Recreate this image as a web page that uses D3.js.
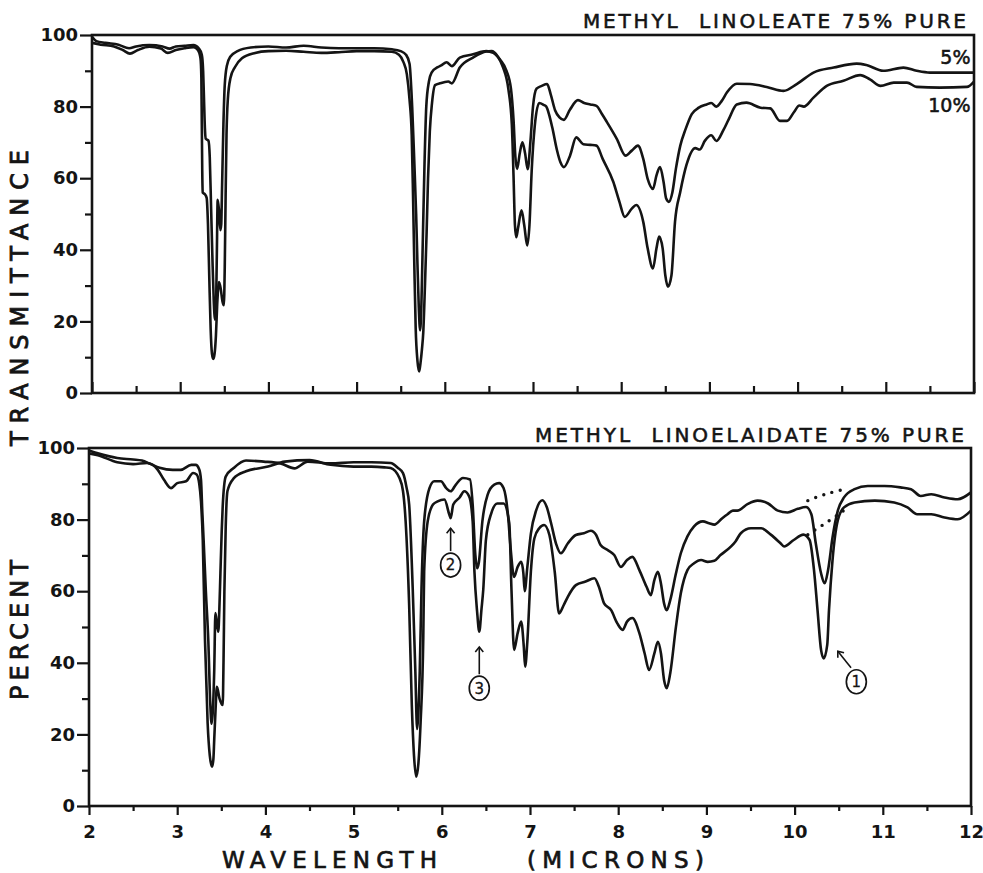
<!DOCTYPE html>
<html>
<head>
<meta charset="utf-8">
<script src="https://cdn.jsdelivr.net/npm/d3@7"></script>
<style>
  body { margin: 0; background: #fff; }
  svg { display: block; }
  text { font-family: "DejaVu Sans", sans-serif; fill: #141414; }
  text.heavy { stroke: #141414; stroke-width: 0.55px; }
</style>
</head>
<body>
<div id="container"></div>
<script>
// wavelength (microns), percent transmittance

// METHYL LINOLEATE, 5% solution (upper trace)
const linoleate5 = [
  [2.0,99.5],[2.05,98.3],[2.15,97.8],[2.3,97.3],[2.42,96.3],[2.5,96.8],[2.65,97.2],[2.8,96.8],[2.88,96.2],
  [2.95,96.8],[3.05,97],[3.15,97.2],[3.21,96.3],[3.245,94.5],[3.26,90],[3.27,82],[3.28,74],[3.29,71],
  [3.32,70.5],[3.335,66],[3.35,52],[3.365,38],[3.38,26],[3.395,20.5],[3.405,23],[3.415,38],[3.425,54],
  [3.44,51],[3.455,45.5],[3.465,47],[3.475,58],[3.49,75],[3.505,86],[3.53,91.5],[3.57,94],[3.65,95.5],
  [3.8,96.5],[4.0,96.8],[4.2,96.5],[4.4,97],[4.6,96.5],[4.8,96.3],[5.0,96.3],[5.2,96.3],[5.4,96],
  [5.5,95.5],[5.56,94.5],[5.6,92],[5.63,80],[5.655,64],[5.675,50],[5.69,36],[5.705,24],[5.72,17.5],
  [5.735,25],[5.745,36],[5.77,64],[5.79,80],[5.82,87],[5.85,89.5],[5.92,91],[5.96,91.5],[6.02,92.4],
  [6.08,91.3],[6.17,93.7],[6.32,94.6],[6.47,95.5],[6.55,95],[6.63,93],[6.7,90],[6.75,85],[6.78,76],
  [6.8,66],[6.82,62.6],[6.85,67],[6.88,70],[6.91,67],[6.94,62.5],[6.97,70],[7.0,80],[7.04,85],
  [7.1,85.8],[7.16,86.3],[7.2,83.5],[7.25,79],[7.3,77],[7.35,76.3],[7.42,79.2],[7.51,81.8],[7.58,81],
  [7.65,80.6],[7.72,80.2],[7.78,78],[7.84,75.6],[7.95,71],[8.05,66.3],[8.12,67.7],[8.19,69.1],[8.25,65.4],
  [8.3,59.8],[8.36,57],[8.4,60.8],[8.44,63.1],[8.48,59],[8.51,54.3],[8.54,53.4],[8.58,56],[8.62,62.6],
  [8.67,69.1],[8.73,73.7],[8.8,77.9],[8.88,79.7],[8.97,80.6],[9.02,81],[9.08,80],[9.14,81.6],[9.2,84],
  [9.31,86.4],[9.46,86.3],[9.65,85.5],[9.84,84.4],[9.99,86.3],[10.18,89.5],[10.41,90.9],[10.67,92],
  [10.78,91.6],[10.97,90],[11.2,90.9],[11.35,90],[11.5,89.5],[12.0,89.5]
];

// METHYL LINOLEATE, 10% solution (lower trace)
const linoleate10 = [
  [2.0,97.8],[2.1,97.3],[2.25,96.8],[2.35,95.8],[2.43,94.8],[2.52,95.8],[2.65,96.7],[2.78,96.2],[2.86,95],
  [2.95,95.8],[3.05,96.3],[3.15,96.6],[3.2,95.8],[3.23,93.5],[3.24,88],[3.245,75],[3.25,62],[3.255,56],
  [3.28,55.5],[3.3,54.5],[3.315,47],[3.33,32],[3.345,18],[3.36,11],[3.375,9.5],[3.39,11],[3.405,16],
  [3.42,25],[3.44,31],[3.46,29],[3.48,25.5],[3.495,24.5],[3.505,35],[3.515,55],[3.525,72],[3.54,82],
  [3.57,88],[3.62,91],[3.7,93.5],[3.85,95],[4.0,95.5],[4.2,95.6],[4.4,95.3],[4.6,95],[4.8,95.2],
  [5.0,95.5],[5.2,95.5],[5.4,95.3],[5.48,94.5],[5.53,92.5],[5.57,89],[5.6,82],[5.625,72],[5.64,55],
  [5.655,35],[5.67,18],[5.69,9],[5.71,6],[5.725,8.5],[5.74,12],[5.756,17],[5.775,30],[5.794,45],
  [5.81,60],[5.83,73],[5.855,81],[5.89,86],[5.945,86.5],[6.04,87],[6.08,86.5],[6.17,90.9],[6.32,93.7],
  [6.47,95.4],[6.53,95.5],[6.6,94],[6.66,91],[6.72,85],[6.76,75],[6.78,60],[6.795,47],[6.81,43.5],
  [6.83,46],[6.87,51],[6.9,47],[6.935,41.2],[6.96,47],[6.985,62],[7.02,74.6],[7.07,81],[7.12,80.5],
  [7.15,80],[7.18,78],[7.22,74],[7.27,68],[7.31,64.5],[7.35,63.1],[7.42,66.3],[7.49,71.4],[7.57,69.5],
  [7.65,69.3],[7.72,69.1],[7.79,65.4],[7.91,59],[7.98,53.4],[8.04,49.2],[8.12,51.5],[8.17,52.5],
  [8.25,47.8],[8.3,40.4],[8.36,34.8],[8.4,40.4],[8.43,43.7],[8.47,40.4],[8.5,32.9],[8.53,29.7],
  [8.57,32.9],[8.61,47.8],[8.67,56.2],[8.74,63.7],[8.84,68.4],[8.89,68],[8.95,70.5],[9.02,72],
  [9.08,70.4],[9.16,73.5],[9.22,76.5],[9.31,80.6],[9.42,81.1],[9.58,79.7],[9.69,79.5],[9.8,76],
  [9.88,76],[9.96,78.5],[10.02,80.3],[10.07,80],[10.18,82.5],[10.33,85.8],[10.52,87.2],[10.71,88.8],
  [10.82,87.6],[10.94,85.8],[11.09,86.7],[11.24,86.7],[11.35,85.5],[11.61,85.3],[11.92,85.5],[12.0,87]
];

// METHYL LINOELAIDATE, weaker solution (upper trace)
const linoelaidate5 = [
  [2.0,99.3],[2.1,98.5],[2.32,97.2],[2.5,96.8],[2.6,96.5],[2.7,95.5],[2.8,94.5],[2.95,93.9],[3.04,93.9],
  [3.16,95.3],[3.21,95.3],[3.25,94],[3.27,91],[3.285,82],[3.3,74],[3.325,60],[3.353,46],[3.376,28],
  [3.39,23],[3.405,27],[3.42,38],[3.433,53.9],[3.45,51],[3.466,48.7],[3.478,55],[3.49,65],[3.505,77],
  [3.516,83.7],[3.55,92],[3.64,94.4],[3.78,96.5],[3.98,96.2],[4.17,95.7],[4.33,94.3],[4.48,96.2],
  [4.74,95.7],[5.0,96],[5.2,96],[5.42,95.8],[5.5,94.5],[5.56,93],[5.6,89],[5.63,84.2],[5.67,60.9],
  [5.7,37.6],[5.72,21.5],[5.75,37.6],[5.77,60.9],[5.8,79.5],[5.86,88.8],[5.915,90.7],[5.99,90.7],
  [6.05,88.8],[6.1,87.9],[6.16,89.8],[6.24,91.6],[6.32,91.2],[6.35,84.2],[6.38,70.2],[6.4,66.4],
  [6.42,68],[6.46,79.5],[6.52,87],[6.595,89.8],[6.65,90.2],[6.7,88.8],[6.75,81.4],[6.78,72.1],[6.82,64],
  [6.86,66.8],[6.9,68.2],[6.925,65],[6.94,60],[6.97,66.8],[7.01,76.1],[7.07,82.6],[7.14,85.4],
  [7.19,83.5],[7.24,78.9],[7.295,73.3],[7.35,70.6],[7.43,73.4],[7.52,75.7],[7.61,76.2],[7.69,76.9],
  [7.75,75.7],[7.8,72.9],[7.88,71.5],[7.955,70.1],[8.03,66.8],[8.1,68.7],[8.16,69.6],[8.24,65.9],
  [8.32,61.3],[8.37,58.9],[8.41,63.1],[8.45,65.4],[8.485,62.1],[8.52,56.6],[8.55,54.7],[8.59,57.5],
  [8.655,65],[8.71,70.6],[8.785,75.3],[8.86,78.1],[8.96,79.5],[9.03,79],[9.09,78.6],[9.18,80.4],
  [9.24,81.5],[9.3,82.5],[9.35,82.5],[9.47,84.4],[9.58,85.3],[9.7,84.5],[9.81,82.5],[9.92,82],
  [10.035,83],[10.13,83.5],[10.19,81.5],[10.24,73.4],[10.3,65],[10.34,62.2],[10.38,66],[10.43,75],
  [10.49,82.5],[10.56,86.2],[10.68,88.5],[10.83,89.4],[11.02,89.4],[11.2,89],[11.32,88.5],[11.43,86.6],
  [11.55,87.1],[11.7,86.2],[11.85,85.7],[12.0,87.6]
];

// METHYL LINOELAIDATE, stronger solution (lower trace)
const linoelaidate10 = [
  [2.0,98.5],[2.1,98],[2.32,96],[2.5,95.5],[2.66,95.8],[2.78,93.9],[2.85,91.1],[2.93,88.8],[3.0,90.2],
  [3.1,90.7],[3.18,93],[3.22,92.6],[3.25,90],[3.27,85],[3.29,74.3],[3.315,46.4],[3.345,23.2],[3.37,14],
  [3.395,11],[3.41,13],[3.42,18.6],[3.435,27],[3.45,33.3],[3.48,30],[3.516,28.2],[3.525,40],[3.535,60],
  [3.55,78],[3.57,88],[3.64,91.5],[3.78,93.5],[4.03,94.8],[4.22,96.2],[4.5,96.6],[4.74,95.3],[5.0,94.8],
  [5.2,94.8],[5.35,94.6],[5.42,94.4],[5.52,91.6],[5.56,88],[5.59,79.5],[5.63,56],[5.66,28.2],
  [5.685,14],[5.71,8.2],[5.735,12],[5.76,23.6],[5.79,46.9],[5.8,65.5],[5.84,79.5],[5.9,84.2],
  [5.953,85.1],[6.03,85.6],[6.085,81.4],[6.1,80.4],[6.13,84.2],[6.2,86.1],[6.255,87.9],[6.31,86.5],
  [6.35,79.5],[6.37,65.5],[6.4,54.4],[6.425,48.7],[6.45,55],[6.47,60.4],[6.5,74.3],[6.56,81.7],
  [6.63,84.5],[6.7,84.5],[6.765,79],[6.79,60.4],[6.82,43.6],[6.86,48.3],[6.9,51.5],[6.93,44.4],
  [6.945,38.9],[6.97,46],[7.01,65.5],[7.05,74.8],[7.105,77.6],[7.16,78.5],[7.22,75.7],[7.28,65.5],
  [7.33,53.8],[7.38,56],[7.43,58.5],[7.52,61.7],[7.63,62.7],[7.73,63.6],[7.78,61.3],[7.84,56.6],
  [7.92,54.7],[7.99,51],[8.05,49.2],[8.1,51.5],[8.16,52.5],[8.24,48.3],[8.3,42.6],[8.35,38],[8.41,42.6],
  [8.45,45.9],[8.485,42.6],[8.52,35.2],[8.55,32.9],[8.59,37.1],[8.655,50.1],[8.71,59.4],[8.785,65.9],
  [8.86,67.8],[8.94,68.7],[9.015,68.2],[9.09,68.5],[9.16,70.1],[9.28,72.5],[9.33,73.9],[9.39,76.2],
  [9.505,77.6],[9.62,77.6],[9.73,75.8],[9.84,73.4],[9.88,72.5],[9.99,74.3],[10.1,75.8],[10.17,74.3],
  [10.22,65.9],[10.26,54.7],[10.3,43.6],[10.33,41.2],[10.37,45],[10.39,54.7],[10.43,68.7],[10.49,79.8],
  [10.56,83.4],[10.68,84.8],[10.91,85.3],[11.13,84.8],[11.28,83.4],[11.39,81.5],[11.55,81.5],
  [11.7,80.6],[11.85,80.1],[12.0,82.5]
];

// dotted baselines drawn under the 10.3 micron trans band
const baselineUpper = [[10.15,85.3],[10.25,86.3],[10.35,87.1],[10.45,87.8],[10.58,88.6]];
const baselineLower = [[10.15,75.8],[10.25,77.4],[10.35,79],[10.45,80.6],[10.56,82.6]];

// circled band numbers: label centre, arrow from -> to
const bandNotes = [
  {label: "2", mu: 6.10, t: 67.3, from: [6.10, 71.2], to: [6.10, 77.6]},
  {label: "3", mu: 6.425, t: 32.9, from: [6.425, 36.8], to: [6.425, 44.4]},
  {label: "1", mu: 10.70, t: 34.7, from: [10.64, 38.6], to: [10.49, 43.2]}
];

const concLabels = [{text: "5%", mu: 11.96, t: 92.0}, {text: "10%", mu: 11.96, t: 78.4}];

const majorX = d3.range(2, 12.01, 1);
const minorX = d3.range(2.5, 12, 1);
const majorY = [0, 20, 40, 60, 80, 100];
const minorY = [10, 30, 50, 70, 90];

const ink = "#141414";
const width = 983;
const height = 873;

const svg = d3.select("div#container")
  .append("svg")
  .attr("width", width)
  .attr("height", height);

svg.append("defs").append("marker")
  .attr("id", "head")
  .attr("viewBox", "-6 -5 8 10")
  .attr("markerUnits", "userSpaceOnUse")
  .attr("markerWidth", 8)
  .attr("markerHeight", 10)
  .attr("orient", "auto")
  .append("path")
  .attr("d", "M-5,-4 L0,0 L-5,4")
  .attr("fill", "none")
  .attr("stroke", ink)
  .attr("stroke-width", 1.6);

const panels = [
  {
    title: "METHYL  LINOLEATE 75% PURE",
    titleSpan: [583, 966], titleBase: 28,
    x: d3.scaleLinear([2, 12], [92, 974]),
    y: d3.scaleLinear([0, 100], [393, 35]),
    series: [linoleate5, linoleate10],
    ticksInward: true
  },
  {
    title: "METHYL  LINOELAIDATE 75% PURE",
    titleSpan: [535, 964], titleBase: 442,
    x: d3.scaleLinear([2, 12], [89, 971]),
    y: d3.scaleLinear([0, 100], [806, 448]),
    series: [linoelaidate5, linoelaidate10],
    ticksInward: false
  }
];

panels.forEach((p, i) => {
  const g = svg.append("g").attr("class", "panel-" + i);
  const [x0, x1] = p.x.range();
  const [y0, y1] = p.y.range();

  //////////////////// AXES ////////////////////
  const yMajor = g.append("g")
    .attr("transform", `translate(${x0},0)`)
    .call(d3.axisLeft(p.y).tickValues(majorY).tickSize(12).tickPadding(2).tickFormat(d3.format("d")));
  const yMinor = g.append("g")
    .attr("transform", `translate(${x0},0)`)
    .call(d3.axisLeft(p.y).tickValues(minorY).tickSize(7).tickFormat(""));

  const xSize = p.ticksInward ? [-11, -7] : [9, 5];
  const xMajor = g.append("g")
    .attr("transform", `translate(0,${y0})`)
    .call(d3.axisBottom(p.x).tickValues(majorX).tickSize(xSize[0]).tickPadding(10)
      .tickFormat(p.ticksInward ? "" : d3.format("d")));
  const xMinor = g.append("g")
    .attr("transform", `translate(0,${y0})`)
    .call(d3.axisBottom(p.x).tickValues(minorX).tickSize(xSize[1]).tickFormat(""));

  [yMajor, yMinor, xMajor, xMinor].forEach(a => {
    a.select(".domain").remove();
    a.selectAll("line").attr("stroke", ink).attr("stroke-width", 2.2);
    a.selectAll("text")
      .attr("fill", ink)
      .style("font-family", "'DejaVu Sans', sans-serif")
      .style("font-size", "18px")
      .style("font-weight", "bold");
  });

  // frame
  g.append("rect")
    .attr("x", x0).attr("y", y1)
    .attr("width", x1 - x0).attr("height", y0 - y1)
    .attr("fill", "none")
    .attr("stroke", ink)
    .attr("stroke-width", 2.6);

  //////////////////// TRACES ////////////////////
  const line = d3.line()
    .x(d => p.x(d[0]))
    .y(d => p.y(d[1]))
    .curve(d3.curveMonotoneX);

  g.append("g")
    .selectAll("path")
    .data(p.series)
    .join("path")
    .attr("d", line)
    .attr("fill", "none")
    .attr("stroke", ink)
    .attr("stroke-width", 2.6)
    .attr("stroke-linejoin", "round");

  // title
  g.append("text")
    .attr("class", "heavy")
    .attr("x", p.titleSpan[0])
    .attr("y", p.titleBase)
    .attr("textLength", p.titleSpan[1] - p.titleSpan[0])
    .attr("lengthAdjust", "spacing")
    .style("font-size", "20px")
    .style("white-space", "pre")
    .text(p.title);
});

//////////////////// TOP PANEL LABELS ////////////////////
const topPanel = panels[0];
svg.append("g")
  .selectAll("text")
  .data(concLabels)
  .join("text")
  .attr("class", "heavy")
  .attr("x", d => topPanel.x(d.mu))
  .attr("y", d => topPanel.y(d.t))
  .attr("text-anchor", "end")
  .style("font-size", "19px")
  .text(d => d.text);

//////////////////// BOTTOM PANEL NOTES ////////////////////
const botPanel = panels[1];
const dotLine = d3.line()
  .x(d => botPanel.x(d[0]))
  .y(d => botPanel.y(d[1]))
  .curve(d3.curveBasis);

svg.append("g")
  .selectAll("path")
  .data([baselineUpper, baselineLower])
  .join("path")
  .attr("d", dotLine)
  .attr("fill", "none")
  .attr("stroke", ink)
  .attr("stroke-width", 3.4)
  .attr("stroke-linecap", "round")
  .attr("stroke-dasharray", "0 8.5");

const notes = svg.append("g");
notes.selectAll("line")
  .data(bandNotes)
  .join("line")
  .attr("x1", d => botPanel.x(d.from[0]))
  .attr("y1", d => botPanel.y(d.from[1]))
  .attr("x2", d => botPanel.x(d.to[0]))
  .attr("y2", d => botPanel.y(d.to[1]))
  .attr("stroke", ink)
  .attr("stroke-width", 1.6)
  .attr("marker-end", "url(#head)");

notes.selectAll("ellipse")
  .data(bandNotes)
  .join("ellipse")
  .attr("cx", d => botPanel.x(d.mu))
  .attr("cy", d => botPanel.y(d.t))
  .attr("rx", 10)
  .attr("ry", 12)
  .attr("fill", "#fff")
  .attr("stroke", ink)
  .attr("stroke-width", 1.7);

notes.selectAll("text")
  .data(bandNotes)
  .join("text")
  .attr("class", "heavy")
  .attr("x", d => botPanel.x(d.mu))
  .attr("y", d => botPanel.y(d.t))
  .attr("dy", "0.36em")
  .attr("text-anchor", "middle")
  .style("font-size", "15px")
  .style("stroke-width", "0.3px")
  .text(d => d.label);

//////////////////// AXIS TITLES ////////////////////
const yTitle = svg.append("g").attr("transform", "translate(28,0) rotate(-90)");
[["PERCENT", 700, 560], ["TRANSMITTANCE", 446, 150]].forEach(([t, a, b]) => {
  yTitle.append("text")
    .attr("class", "heavy")
    .attr("x", -a)
    .attr("y", 0)
    .attr("textLength", a - b)
    .attr("lengthAdjust", "spacing")
    .style("font-size", "24px")
    .style("stroke-width", "0.8px")
    .text(t);
});

[["WAVELENGTH", 222, 437], ["(MICRONS)", 527, 704]].forEach(([t, a, b]) => {
  svg.append("text")
    .attr("class", "heavy")
    .attr("x", a)
    .attr("y", 868)
    .attr("textLength", b - a)
    .attr("lengthAdjust", "spacing")
    .style("font-size", "23px")
    .style("stroke-width", "0.7px")
    .text(t);
});
</script>
</body>
</html>
